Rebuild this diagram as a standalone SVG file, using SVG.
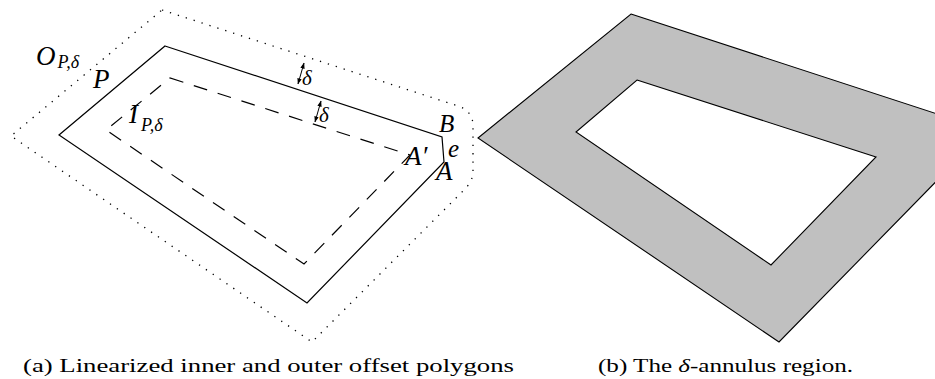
<svg xmlns="http://www.w3.org/2000/svg" width="935" height="379" viewBox="0 0 935 379">
<style>
.solid{fill:none;stroke:#000;stroke-width:1.2;stroke-linejoin:miter}
.dash{fill:none;stroke:#000;stroke-width:1.2;stroke-dasharray:14 11}
.dot{fill:none;stroke:#000;stroke-width:1.3;stroke-dasharray:1.3 7}
.math{font-family:"Liberation Serif","Times New Roman",serif;font-style:italic;font-size:27px;fill:#000}
.sm{font-size:25px}
.sub{font-size:18px}
.dl{font-family:"Liberation Serif","Times New Roman",serif;font-style:italic;font-size:21px;fill:#000}
.cap{font-family:"Liberation Serif","Times New Roman",serif;font-size:19px;fill:#000}
.arr{stroke:#000;stroke-width:1;fill:none}
.ring{fill:#c0c0c0;fill-rule:evenodd;stroke:#000;stroke-width:1.1}
</style>
<defs>
<marker id="ah" viewBox="0 0 6 6" refX="5.5" refY="3" markerWidth="6" markerHeight="6" markerUnits="userSpaceOnUse" orient="auto-start-reverse">
<path d="M0,0.8 L6,3 L0,5.2 Z" fill="#000"/>
</marker>
</defs>
<g id="panel-a">
<g id="outer-offset"><path class="dot" d="M162,10 L458,106 Q473,111 473,126 L473,172 Q473,182 462,192 L312,342 L11,136 Z"/></g>
<g id="polygon-P"><path class="solid" d="M165,46 L442,137 L444,162 L307,303 L59,135 Z"/></g>
<g id="inner-offset"><path class="dash" d="M170,78 L410,155 L304,264 L106,130 Z"/></g>
<g id="connectors">
<line class="arr" x1="304" y1="63" x2="298" y2="84" marker-start="url(#ah)" marker-end="url(#ah)"/>
<line class="arr" x1="321" y1="101" x2="315" y2="122" marker-start="url(#ah)" marker-end="url(#ah)"/>
</g>
<g id="labels">
<text class="math" x="36" y="65">O<tspan class="sub" dx="2" dy="3">P,δ</tspan></text>
<text class="math" x="93" y="88">P</text>
<text class="math" x="129" y="123">I<tspan class="sub" dx="3" dy="8">P,δ</tspan></text>
<text class="math sm" x="439" y="132">B</text>
<text class="math sm" x="448" y="157">e</text>
<text class="math" x="436" y="180">A</text>
<text class="math" x="405" y="165">A′</text>
<text class="dl" x="302" y="85">δ</text>
<text class="dl" x="319" y="122">δ</text>
</g>
<text class="cap" x="23" y="372" textLength="491" lengthAdjust="spacingAndGlyphs">(a) Linearized inner and outer offset polygons</text>
</g>
<g id="panel-b">
<g id="annulus"><path class="ring" d="M631,14 L965,123 L965,152 L779,342 L478,138 Z M637,80 L876,157 L771,265 L576,132 Z"/></g>
<text class="cap" x="598" y="372" textLength="255" lengthAdjust="spacingAndGlyphs">(b) The <tspan font-style="italic">δ</tspan>-annulus region.</text>
</g>
</svg>
